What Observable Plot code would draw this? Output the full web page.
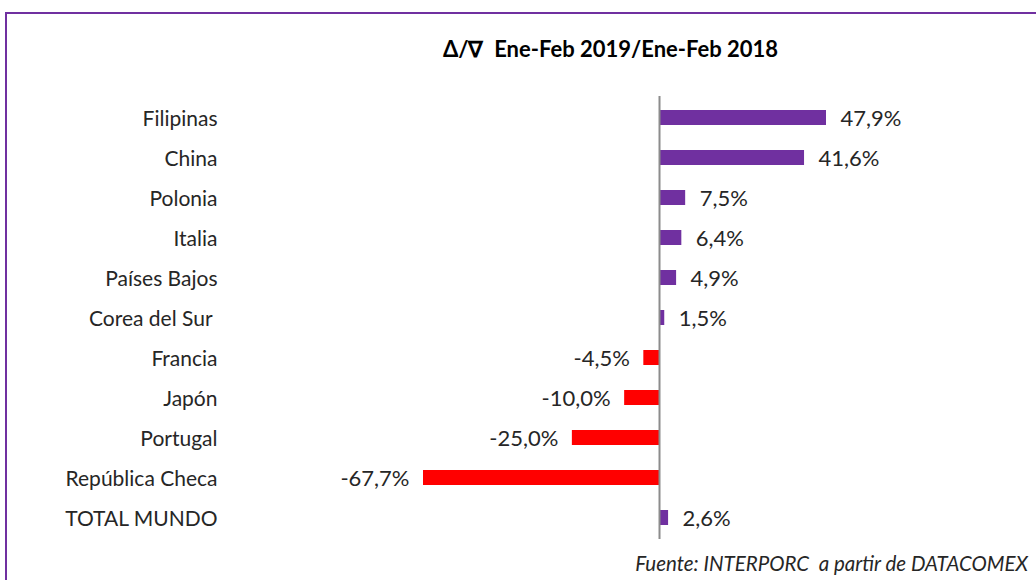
<!DOCTYPE html>
<html>
<head>
<meta charset="utf-8">
<script src="https://cdn.jsdelivr.net/npm/d3@7"></script>
<script src="https://cdn.jsdelivr.net/npm/@observablehq/plot@0.6"></script>
<style>
  html, body { margin: 0; padding: 0; background: #fff; }
  #wrap { position: relative; width: 1036px; height: 580px; overflow: hidden; font-family: Lato, "Open Sans", sans-serif; }
  #frame { position: absolute; left: 5px; top: 12px; width: 1100px; height: 700px; border: 2px solid #7030A0; box-sizing: border-box; }
  #title { position: absolute; left: 0; top: 35px; width: 1036px; text-align: center; padding-left: 185px; box-sizing: border-box; font-weight: bold; font-size: 22px; color: #000; line-height: 28px; }
  #chart { position: absolute; left: 0; top: 0; }
  #caption { position: absolute; right: 8px; top: 550px; font-style: italic; font-size: 20.5px; color: #262626; line-height: 26px; }
</style>
</head>
<body>
<div id="wrap">
  <div id="frame"></div>
  <div id="chart"></div>
  <div id="title">Δ/∇&nbsp; Ene-Feb 2019/Ene-Feb 2018</div>
  <div id="caption">Fuente: INTERPORC&nbsp; a partir de DATACOMEX</div>
</div>
<script>
const countries = ["Filipinas", "China", "Polonia", "Italia", "Países Bajos", "Corea del Sur ", "Francia", "Japón", "Portugal", "República Checa", "TOTAL MUNDO"];
const changes = [47.9, 41.6, 7.5, 6.4, 4.9, 1.5, -4.5, -10.0, -25.0, -67.7, 2.6];
const labels = ["47,9%", "41,6%", "7,5%", "6,4%", "4,9%", "1,5%", "-4,5%", "-10,0%", "-25,0%", "-67,7%", "2,6%"];

const data = countries.map((c, i) => ({country: c, value: changes[i], label: labels[i]}));
const pos = data.filter(d => d.value >= 0);
const neg = data.filter(d => d.value < 0);
const purple = "#7030A0", red = "#FF0000";
const fs = 21, vfs = 22;

const chart = Plot.plot({
  width: 1036,
  height: 580,
  marginLeft: 423,
  marginRight: 210,
  marginTop: 96,
  marginBottom: 41,
  style: {fontFamily: "Lato, 'Open Sans', sans-serif", background: "transparent"},
  x: {domain: [-67.7, 47.9], axis: null},
  y: {domain: countries, axis: null, paddingInner: 0.62, paddingOuter: 0.31},
  marks: [
    Plot.barX(data, {x: "value", y: "country", fill: d => d.value >= 0 ? purple : red}),
    Plot.ruleX([0], {stroke: "#8c8c8c", strokeWidth: 2}),
    Plot.text(pos, {x: "value", y: "country", text: "label", textAnchor: "start", dx: 14, dy: 1, fontSize: vfs, fill: "#262626"}),
    Plot.text(neg, {x: "value", y: "country", text: "label", textAnchor: "end", dx: -14, dy: 1, fontSize: vfs, fill: "#262626"}),
    Plot.text(data, {y: "country", text: "country", frameAnchor: "left", dx: -206, textAnchor: "end", fontSize: fs, fill: "#262626", dy: 1})
  ]
});
document.getElementById("chart").appendChild(chart);
</script>
</body>
</html>
